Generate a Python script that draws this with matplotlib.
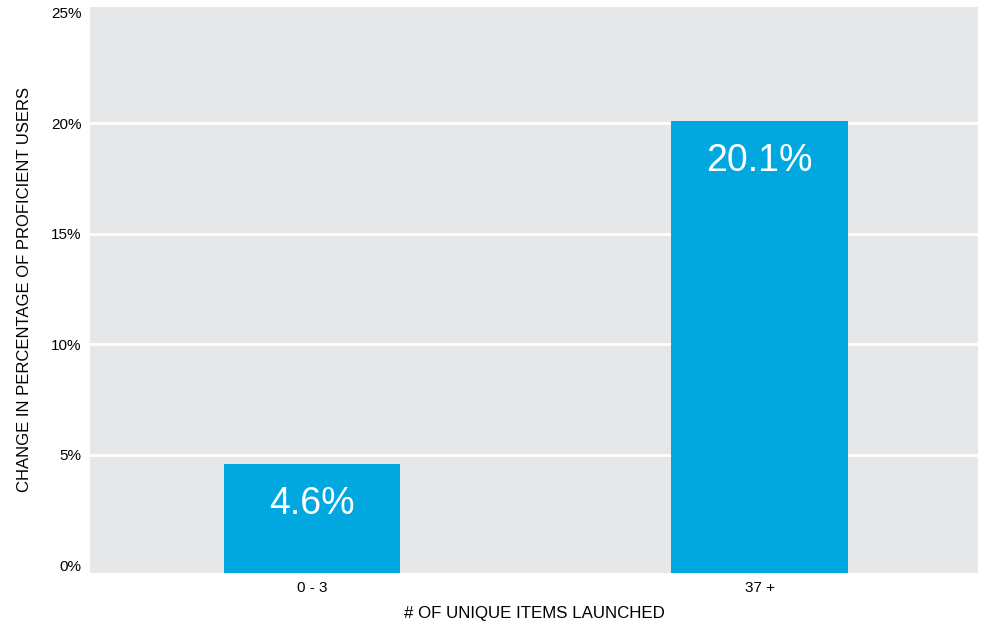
import numpy as np
import matplotlib.pyplot as plt

# data
categories = ['0 - 3', '37 +']
values = [4.6, 20.1]
value_labels = ['4.6%', '20.1%']
yticks = [0, 5, 10, 15, 20, 25]

plt.rcParams['font.family'] = ['Liberation Sans', 'DejaVu Sans']

fig = plt.figure(figsize=(9.82, 6.26), dpi=100)
ax = fig.add_axes([90 / 982, 53 / 626, 888 / 982, 566 / 626])

ax.set_facecolor('#e6e7e9')
y_low = -0.34
x = np.arange(len(categories))
vals = np.array(values)

# white grid lines, only between the first and last tick
for t in yticks[1:-1]:
    ax.axhline(t, color='white', linewidth=2, zorder=1)

# bars start at the bottom edge of the plot area
ax.bar(x, vals - y_low, bottom=y_low, width=0.395, color='#00a8df', zorder=3)

for xi, v, lab in zip(x, vals, value_labels):
    ax.annotate(lab, (xi, v), xytext=(0, -29), textcoords='offset points',
                ha='center', va='center', color='white', fontsize=27, zorder=4)

ax.set_ylim(y_low, 25.25)
ax.set_xlim(-0.496, 1.488)
ax.set_yticks(yticks)
ax.set_yticklabels([f'{t}%' for t in yticks], fontsize=11)
ax.set_xticks(x)
ax.set_xticklabels(categories, fontsize=11)
ax.tick_params(length=0, pad=6)
for s in ax.spines.values():
    s.set_visible(False)

ax.set_xlabel('# OF UNIQUE ITEMS LAUNCHED', fontsize=12.2, labelpad=8)
ax.set_ylabel('CHANGE IN PERCENTAGE OF PROFICIENT USERS', fontsize=12, labelpad=14)

fig.savefig('out.png', dpi=100)
